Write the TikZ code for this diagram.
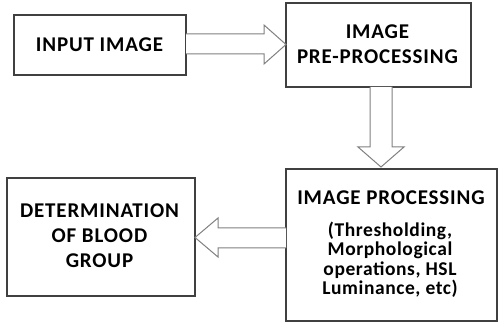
\documentclass[tikz,border=0pt]{standalone}
\usepackage{fontspec}
\setmainfont{Carlito}
\begin{document}
\begin{tikzpicture}[x=1pt,y=-1pt,
  boxst/.style={draw=black!75,line width=1.3pt,fill=white},
  ttl/.style={font=\bfseries\fontsize{21}{25}\selectfont\addfontfeature{LetterSpace=4},anchor=base,inner sep=0pt},
  det/.style={font=\bfseries\fontsize{19.5}{19.3}\selectfont\addfontfeature{LetterSpace=3},anchor=base,inner sep=0pt},
  arr/.style={draw=black!50,line width=1pt,fill=white,line join=miter}]
\useasboundingbox (0,0) rectangle (499,323);
% boxes
\draw[boxst] (14,15) rectangle (186,75);
\draw[boxst] (286,3) rectangle (471,87);
\draw[boxst] (286,169) rectangle (497,321);
\draw[boxst] (7,178) rectangle (195,296);
% block arrows
\draw[arr] (186,34) -- (264,34) -- (264,25) -- (286,44.5) -- (264,64) -- (264,54) -- (186,54);
\draw[arr] (370,87) -- (370,147) -- (358,147) -- (381,167) -- (404,147) -- (392,147) -- (392,87);
\draw[arr] (286,228) -- (218,228) -- (218,218) -- (195,237.5) -- (218,257) -- (218,248) -- (286,248);
% texts
\node[ttl] (t1) at (99.5,52) {INPUT IMAGE};
\node[ttl] (t2a) at (377.5,39) {IMAGE};
\node[ttl] (t2b) at (377.5,64) {PRE-PROCESSING};
\node[ttl] (t3) at (391,205) {IMAGE PROCESSING};
\node[det] (t3a) at (390,237) {(Thresholding,};
\node[det] (t3b) at (390,256) {Morphological};
\node[det] (t3c) at (390,276) {operations, HSL};
\node[det] (t3d) at (390,295) {Luminance, etc)};
\node[ttl] (t4a) at (99.5,218) {DETERMINATION};
\node[ttl] (t4b) at (99.5,243) {OF BLOOD};
\node[ttl] (t4c) at (99.5,268) {GROUP};
\end{tikzpicture}
\end{document}
